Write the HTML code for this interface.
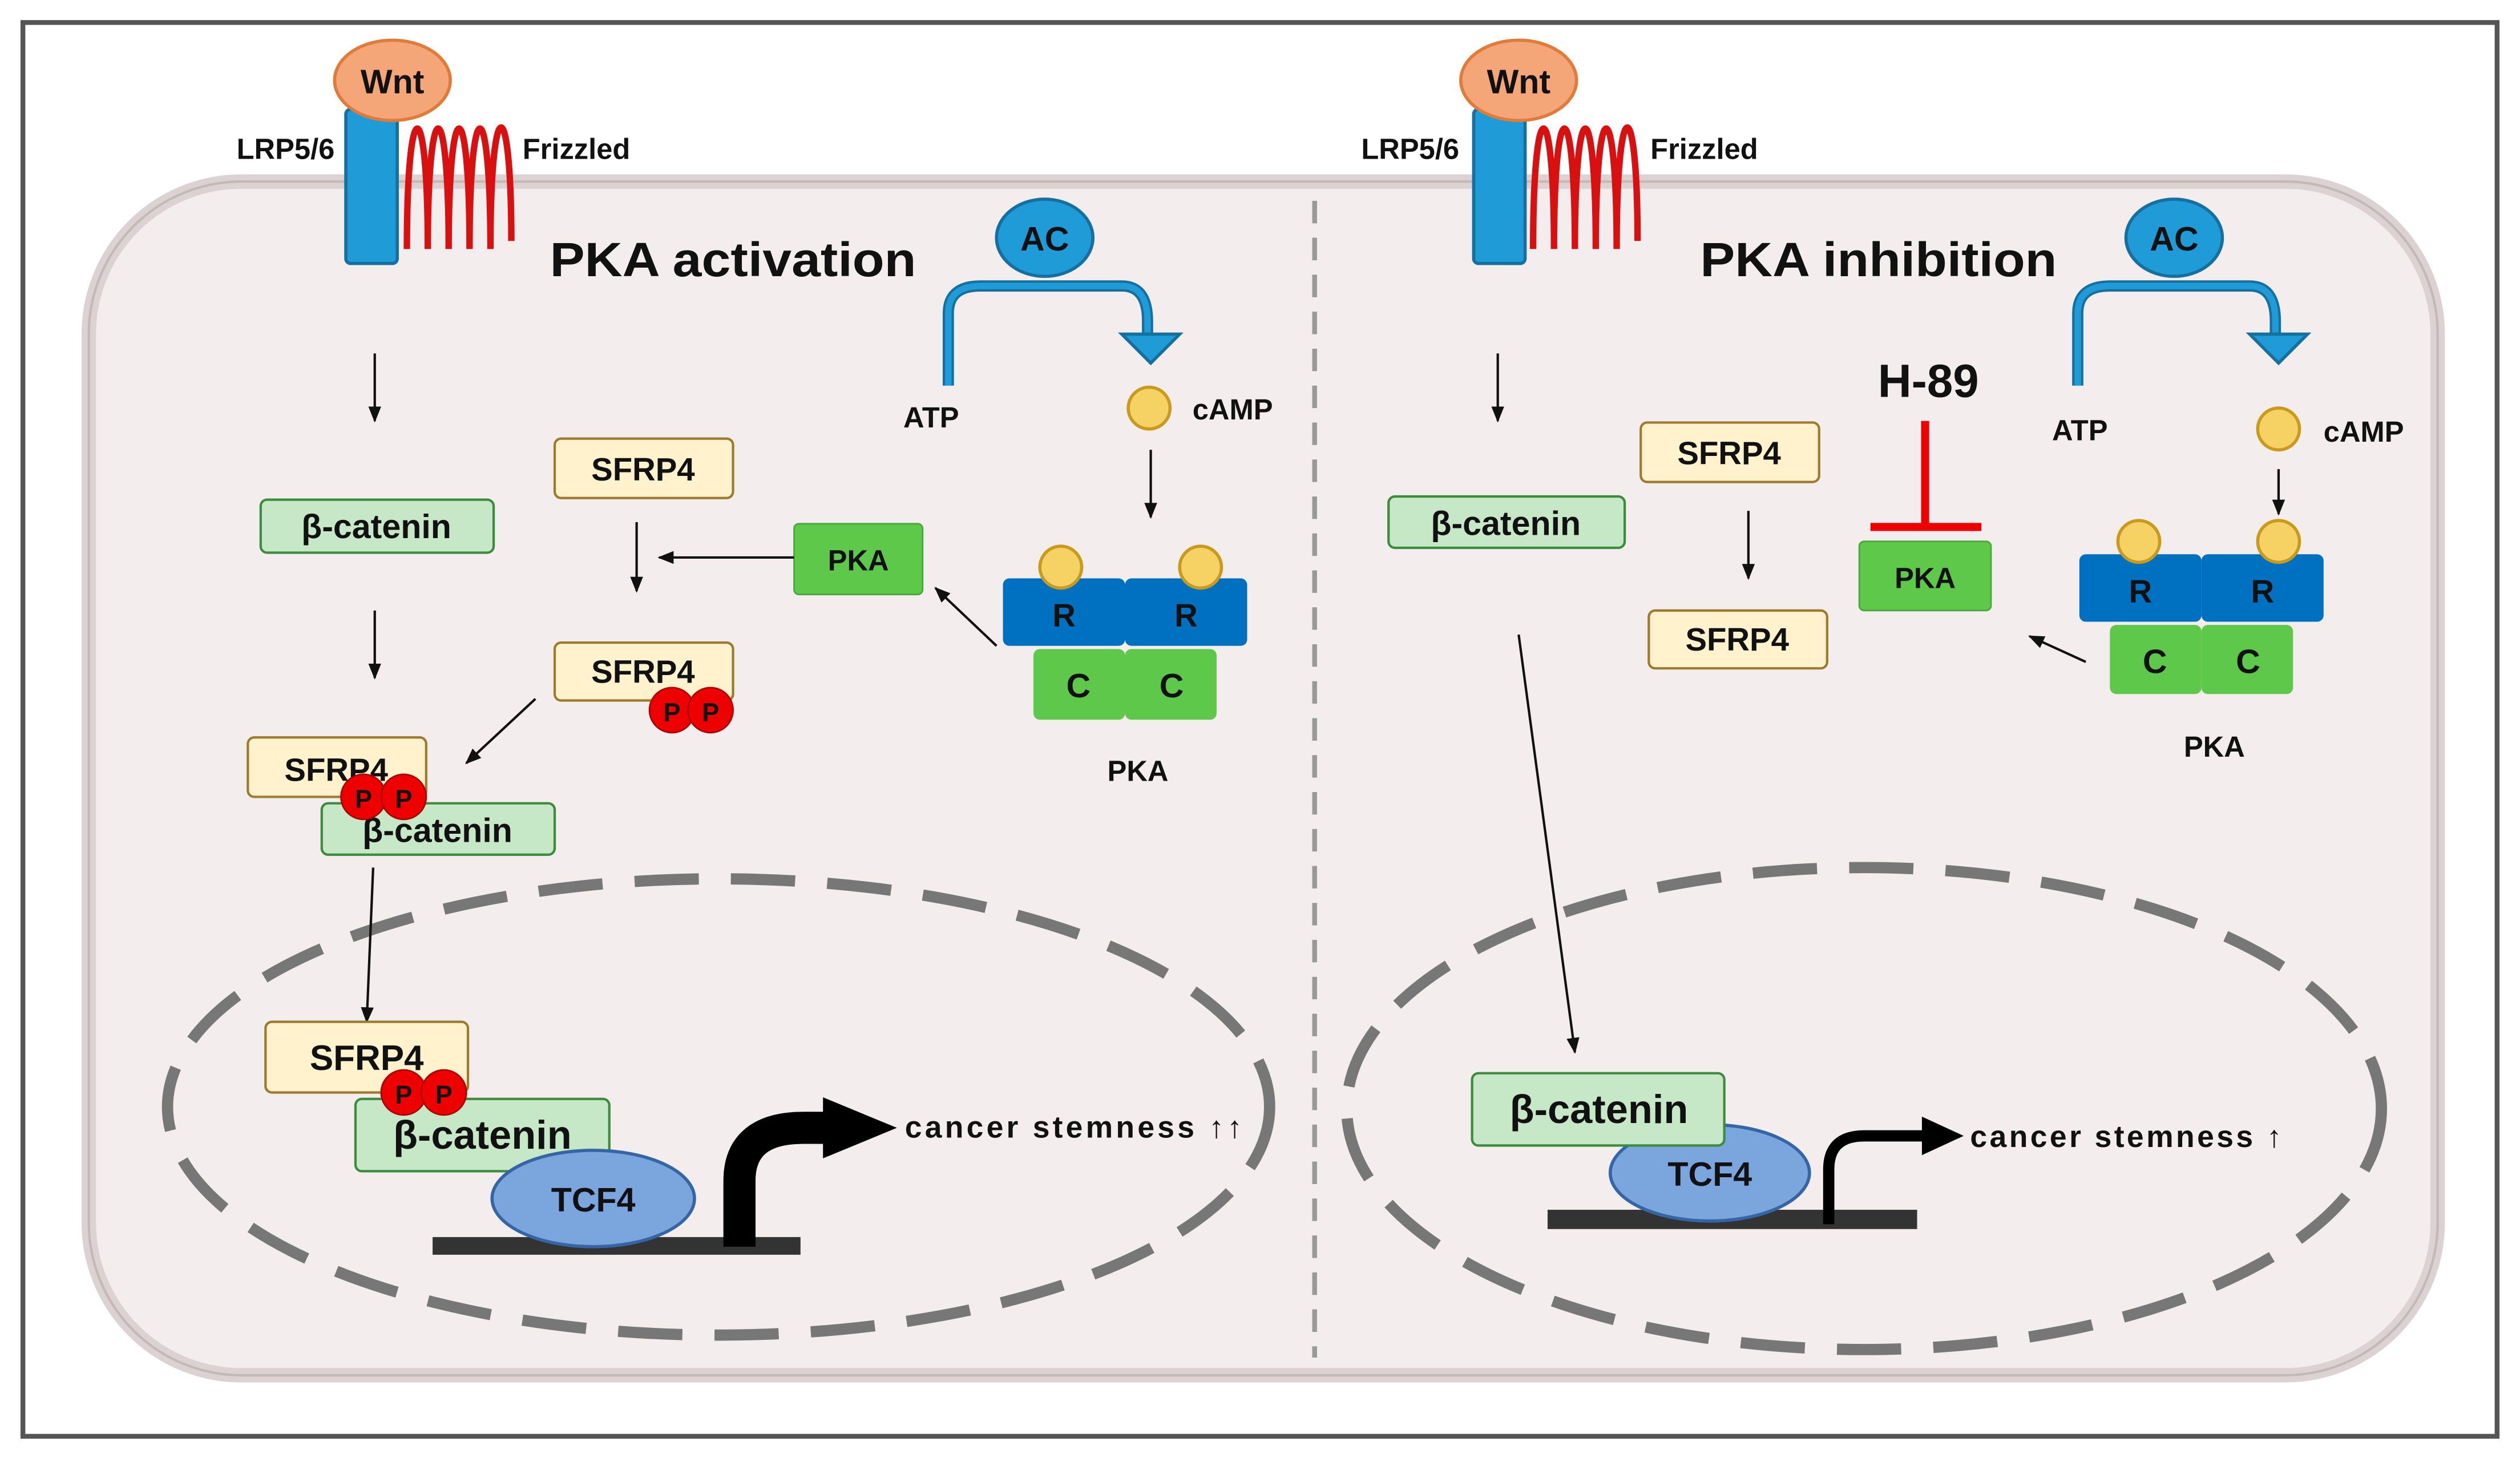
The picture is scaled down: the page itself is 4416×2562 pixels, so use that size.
<!DOCTYPE html>
<html><head><meta charset="utf-8"><style>
html,body{margin:0;padding:0;background:#fff;}
svg{display:block;}
text{font-family:"Liberation Sans",Arial,sans-serif;font-weight:bold;fill:#111;}
</style></head><body>
<svg width="4416" height="2562" viewBox="0 0 1568 910" xmlns="http://www.w3.org/2000/svg">
<defs>
<marker id="ah" markerWidth="10" markerHeight="10" refX="9" refY="5" orient="auto" markerUnits="userSpaceOnUse"><path d="M0,1 L10,5 L0,9 z" fill="#111"/></marker>
</defs>
<rect x="0" y="0" width="1568" height="910" fill="#fff"/>
<rect x="14" y="14" width="1540" height="880" fill="#fff" stroke="#555" stroke-width="3"/>
<rect x="55" y="113" width="1462" height="743" rx="95" fill="#f3eded" stroke="#ddd2d2" stroke-width="9"/>
<rect x="55" y="113" width="1462" height="743" rx="95" fill="none" stroke="#c4b8b8" stroke-width="1.5"/>
<line x1="818" y1="125" x2="818" y2="845" stroke="#999" stroke-width="3" stroke-dasharray="14 9"/>
<ellipse cx="447" cy="689" rx="343" ry="142" fill="none" stroke="#777" stroke-width="7" stroke-dasharray="40 20"/>
<ellipse cx="1160" cy="690" rx="322" ry="150" fill="none" stroke="#777" stroke-width="7" stroke-dasharray="40 20"/>

<!-- LEFT receptors -->
<rect x="215" y="68" width="32" height="96" rx="3" fill="#1f9bd7" stroke="#1570a0" stroke-width="2"/>
<path d="M253,155 C253,55 266,55 266,155 C266,55 279,55 279,155 C279,55 292,55 292,155 C292,55 305,55 305,155 C305,55 318,55 318,150" fill="none" stroke="#d81010" stroke-width="4"/>
<ellipse cx="244" cy="50" rx="36" ry="25" fill="#f5a678" stroke="#e07b39" stroke-width="2"/>
<text x="244" y="58" font-size="21" text-anchor="middle">Wnt</text>
<text x="208" y="99" font-size="18" text-anchor="end">LRP5/6</text>
<text x="325" y="99" font-size="18">Frizzled</text>
<text x="342" y="172" font-size="30" textLength="228" lengthAdjust="spacingAndGlyphs">PKA activation</text>

<path d="M590,240 L590,195 Q590,178 610,178 L698,178 Q714,178 714,200 L714,210" fill="none" stroke="#1570a0" stroke-width="7"/>
<path d="M590,240 L590,195 Q590,178 610,178 L698,178 Q714,178 714,200 L714,210" fill="none" stroke="#1f9bd7" stroke-width="4"/>
<path d="M698,208 L734,208 L716,226 z" fill="#1f9bd7" stroke="#1570a0" stroke-width="2"/>
<ellipse cx="650" cy="148" rx="30" ry="24" fill="#1f9bd7" stroke="#1570a0" stroke-width="2"/>
<text x="650" y="156" font-size="21" text-anchor="middle">AC</text>
<text x="562" y="266" font-size="18">ATP</text>
<circle cx="715" cy="254" r="13" fill="#f6d265" stroke="#c89b1c" stroke-width="2"/>
<text x="742" y="261" font-size="18">cAMP</text>
<line x1="716" y1="280" x2="716" y2="322" stroke="#111" stroke-width="1.5" marker-end="url(#ah)"/>
<rect x="624" y="360" width="76" height="42" rx="4" fill="#0070c0"/>
<rect x="700" y="360" width="76" height="42" rx="4" fill="#0070c0"/>
<circle cx="660" cy="353" r="13" fill="#f6d265" stroke="#c89b1c" stroke-width="2"/>
<circle cx="747" cy="353" r="13" fill="#f6d265" stroke="#c89b1c" stroke-width="2"/>
<text x="662" y="390" font-size="20" text-anchor="middle">R</text>
<text x="738" y="390" font-size="20" text-anchor="middle">R</text>
<rect x="643" y="404" width="57" height="44" rx="4" fill="#5ec84a"/>
<rect x="700" y="404" width="57" height="44" rx="4" fill="#5ec84a"/>
<text x="671" y="434" font-size="21" text-anchor="middle">C</text>
<text x="729" y="434" font-size="21" text-anchor="middle">C</text>
<text x="708" y="486" font-size="18" text-anchor="middle">PKA</text>
<line x1="620" y1="402" x2="582" y2="366" stroke="#111" stroke-width="1.5" marker-end="url(#ah)"/>
<rect x="494" y="326" width="80" height="44" rx="3" fill="#5ec84a" stroke="#4aa83a"/>
<text x="534" y="355" font-size="18" text-anchor="middle">PKA</text>
<line x1="494" y1="347" x2="410" y2="347" stroke="#111" stroke-width="1.5" marker-end="url(#ah)"/>
<rect x="345" y="273" width="111" height="37" rx="4" fill="#fff2cc" stroke="#9c7b2c" stroke-width="1.5"/>
<text x="400" y="299" font-size="20" text-anchor="middle">SFRP4</text>
<line x1="396" y1="325" x2="396" y2="368" stroke="#111" stroke-width="1.5" marker-end="url(#ah)"/>
<rect x="345" y="400" width="111" height="36" rx="4" fill="#fff2cc" stroke="#9c7b2c" stroke-width="1.5"/>
<text x="400" y="425" font-size="20" text-anchor="middle">SFRP4</text>
<circle cx="418" cy="442" r="14" fill="#e00" stroke="#a00"/><text x="418" y="449" font-size="16" text-anchor="middle">P</text>
<circle cx="442" cy="442" r="14" fill="#e00" stroke="#a00"/><text x="442" y="449" font-size="16" text-anchor="middle">P</text>
<line x1="333" y1="435" x2="290" y2="475" stroke="#111" stroke-width="1.5" marker-end="url(#ah)"/>
<line x1="233" y1="220" x2="233" y2="262" stroke="#111" stroke-width="1.5" marker-end="url(#ah)"/>
<rect x="162" y="311" width="145" height="33" rx="4" fill="#c6e8c6" stroke="#3d8b3d" stroke-width="1.5"/>
<text x="234" y="335" font-size="21" text-anchor="middle">β-catenin</text>
<line x1="233" y1="380" x2="233" y2="422" stroke="#111" stroke-width="1.5" marker-end="url(#ah)"/>
<rect x="154" y="459" width="111" height="37" rx="4" fill="#fff2cc" stroke="#9c7b2c" stroke-width="1.5"/>
<text x="209" y="486" font-size="20" text-anchor="middle">SFRP4</text>
<rect x="200" y="500" width="145" height="32" rx="4" fill="#c6e8c6" stroke="#3d8b3d" stroke-width="1.5"/>
<text x="272" y="524" font-size="21" text-anchor="middle">β-catenin</text>
<circle cx="226" cy="496" r="14" fill="#e00" stroke="#a00"/><text x="226" y="503" font-size="16" text-anchor="middle">P</text>
<circle cx="251" cy="496" r="14" fill="#e00" stroke="#a00"/><text x="251" y="503" font-size="16" text-anchor="middle">P</text>
<line x1="232" y1="540" x2="228" y2="636" stroke="#111" stroke-width="1.5" marker-end="url(#ah)"/>
<rect x="165" y="636" width="126" height="44" rx="4" fill="#fff2cc" stroke="#9c7b2c" stroke-width="1.5"/>
<text x="228" y="666" font-size="22" text-anchor="middle">SFRP4</text>
<rect x="221" y="684" width="158" height="45" rx="4" fill="#c6e8c6" stroke="#3d8b3d" stroke-width="1.5"/>
<text x="300" y="715" font-size="25" text-anchor="middle">β-catenin</text>
<circle cx="251" cy="680" r="14" fill="#e00" stroke="#a00"/><text x="251" y="687" font-size="16" text-anchor="middle">P</text>
<circle cx="276" cy="680" r="14" fill="#e00" stroke="#a00"/><text x="276" y="687" font-size="16" text-anchor="middle">P</text>
<rect x="269" y="770" width="229" height="11" fill="#333"/>
<ellipse cx="369" cy="746" rx="63" ry="30" fill="#7aa5dd" stroke="#3465a4" stroke-width="2"/>
<text x="369" y="754" font-size="21" text-anchor="middle">TCF4</text>
<path d="M460,776 L460,735 Q460,702 500,702 L515,702" fill="none" stroke="#000" stroke-width="20"/>
<path d="M512,683 L558,702 L512,721 z" fill="#000"/>
<text x="563" y="708" font-size="19" textLength="210" lengthAdjust="spacing">cancer stemness ↑↑</text>

<!-- RIGHT -->
<rect x="917" y="68" width="32" height="96" rx="3" fill="#1f9bd7" stroke="#1570a0" stroke-width="2"/>
<path d="M954,155 C954,55 967,55 967,155 C967,55 980,55 980,155 C980,55 993,55 993,155 C993,55 1006,55 1006,155 C1006,55 1019,55 1019,150" fill="none" stroke="#d81010" stroke-width="4"/>
<ellipse cx="945" cy="50" rx="36" ry="25" fill="#f5a678" stroke="#e07b39" stroke-width="2"/>
<text x="945" y="58" font-size="21" text-anchor="middle">Wnt</text>
<text x="908" y="99" font-size="18" text-anchor="end">LRP5/6</text>
<text x="1027" y="99" font-size="18">Frizzled</text>
<text x="1058" y="172" font-size="30" textLength="222" lengthAdjust="spacingAndGlyphs">PKA inhibition</text>
<path d="M1293,240 L1293,195 Q1293,178 1313,178 L1400,178 Q1416,178 1416,200 L1416,210" fill="none" stroke="#1570a0" stroke-width="7"/>
<path d="M1293,240 L1293,195 Q1293,178 1313,178 L1400,178 Q1416,178 1416,200 L1416,210" fill="none" stroke="#1f9bd7" stroke-width="4"/>
<path d="M1400,208 L1436,208 L1418,226 z" fill="#1f9bd7" stroke="#1570a0" stroke-width="2"/>
<ellipse cx="1353" cy="148" rx="30" ry="24" fill="#1f9bd7" stroke="#1570a0" stroke-width="2"/>
<text x="1353" y="156" font-size="21" text-anchor="middle">AC</text>
<text x="1277" y="274" font-size="18">ATP</text>
<circle cx="1418" cy="267" r="13" fill="#f6d265" stroke="#c89b1c" stroke-width="2"/>
<text x="1446" y="275" font-size="18">cAMP</text>
<line x1="1418" y1="292" x2="1418" y2="320" stroke="#111" stroke-width="1.5" marker-end="url(#ah)"/>
<rect x="1294" y="345" width="76" height="42" rx="4" fill="#0070c0"/>
<rect x="1370" y="345" width="76" height="42" rx="4" fill="#0070c0"/>
<circle cx="1331" cy="337" r="13" fill="#f6d265" stroke="#c89b1c" stroke-width="2"/>
<circle cx="1418" cy="337" r="13" fill="#f6d265" stroke="#c89b1c" stroke-width="2"/>
<text x="1332" y="375" font-size="20" text-anchor="middle">R</text>
<text x="1408" y="375" font-size="20" text-anchor="middle">R</text>
<rect x="1313" y="389" width="57" height="43" rx="4" fill="#5ec84a"/>
<rect x="1370" y="389" width="57" height="43" rx="4" fill="#5ec84a"/>
<text x="1341" y="419" font-size="21" text-anchor="middle">C</text>
<text x="1399" y="419" font-size="21" text-anchor="middle">C</text>
<text x="1378" y="471" font-size="18" text-anchor="middle">PKA</text>
<line x1="1298" y1="412" x2="1263" y2="396" stroke="#111" stroke-width="1.5" marker-end="url(#ah)"/>
<text x="1200" y="247" font-size="29" text-anchor="middle">H-89</text>
<line x1="1198" y1="262" x2="1198" y2="327" stroke="#e00" stroke-width="5"/>
<line x1="1164" y1="328" x2="1233" y2="328" stroke="#e00" stroke-width="5"/>
<rect x="1157" y="337" width="82" height="43" rx="3" fill="#5ec84a" stroke="#4aa83a"/>
<text x="1198" y="366" font-size="18" text-anchor="middle">PKA</text>
<rect x="1021" y="263" width="111" height="37" rx="4" fill="#fff2cc" stroke="#9c7b2c" stroke-width="1.5"/>
<text x="1076" y="289" font-size="20" text-anchor="middle">SFRP4</text>
<line x1="1088" y1="318" x2="1088" y2="360" stroke="#111" stroke-width="1.5" marker-end="url(#ah)"/>
<rect x="1026" y="380" width="111" height="36" rx="4" fill="#fff2cc" stroke="#9c7b2c" stroke-width="1.5"/>
<text x="1081" y="405" font-size="20" text-anchor="middle">SFRP4</text>
<line x1="932" y1="220" x2="932" y2="262" stroke="#111" stroke-width="1.5" marker-end="url(#ah)"/>
<rect x="864" y="309" width="147" height="32" rx="4" fill="#c6e8c6" stroke="#3d8b3d" stroke-width="1.5"/>
<text x="937" y="333" font-size="21" text-anchor="middle">β-catenin</text>
<line x1="945" y1="395" x2="980" y2="655" stroke="#111" stroke-width="1.5" marker-end="url(#ah)"/>
<rect x="963" y="753" width="230" height="12" fill="#333"/>
<ellipse cx="1064" cy="730" rx="62" ry="30" fill="#7aa5dd" stroke="#3465a4" stroke-width="2"/>
<text x="1064" y="738" font-size="21" text-anchor="middle">TCF4</text>
<rect x="916" y="668" width="157" height="45" rx="4" fill="#c6e8c6" stroke="#3d8b3d" stroke-width="1.5"/>
<text x="995" y="699" font-size="25" text-anchor="middle">β-catenin</text>
<path d="M1138,762 L1138,728 Q1138,707 1160,707 L1200,707" fill="none" stroke="#000" stroke-width="7"/>
<path d="M1196,695 L1222,707 L1196,719 z" fill="#000"/>
<text x="1226" y="714" font-size="19" textLength="194" lengthAdjust="spacing">cancer stemness ↑</text>
</svg>
</body></html>
